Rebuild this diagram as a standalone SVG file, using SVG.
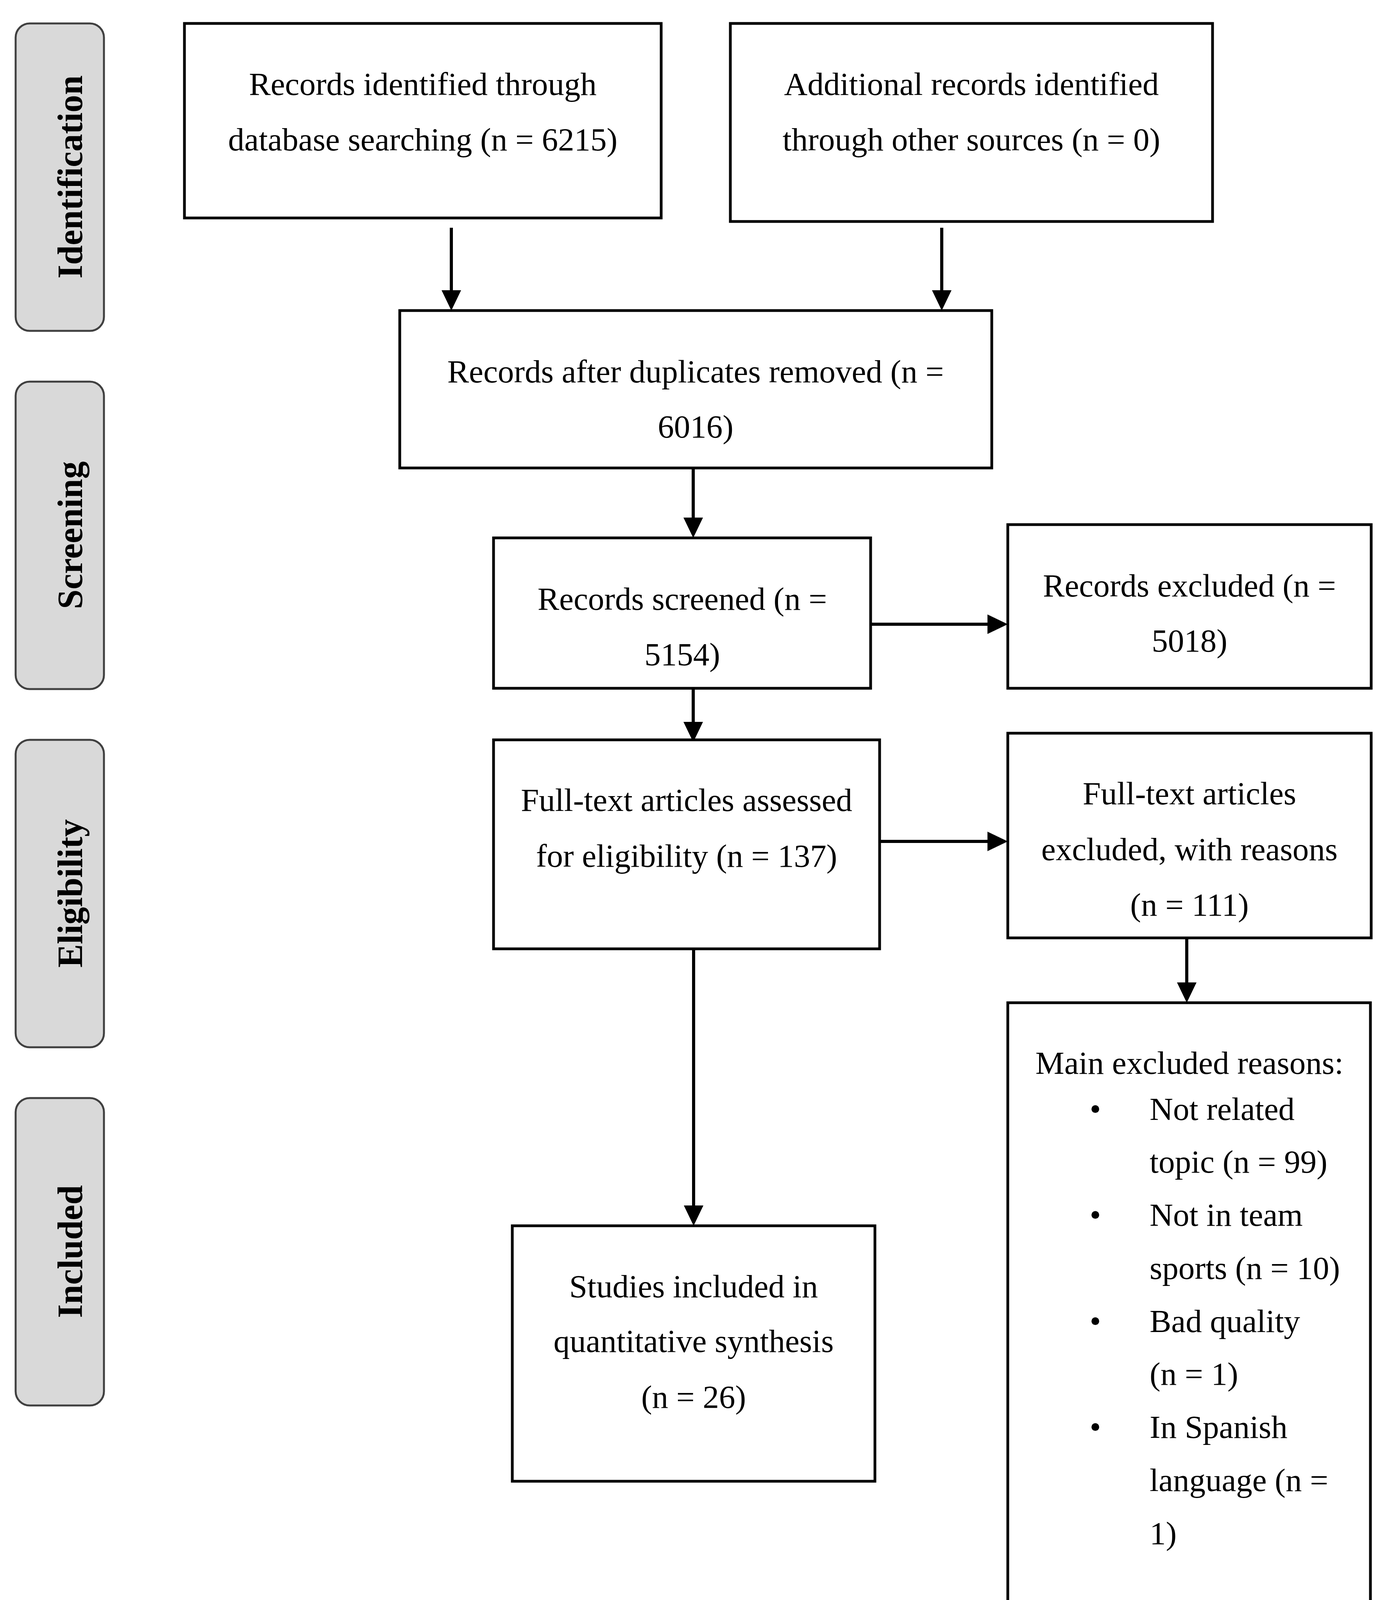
<svg xmlns="http://www.w3.org/2000/svg" width="3552" height="4176" viewBox="0 0 3552 4176">
<style>
.side{fill:#d9d9d9;stroke:#404040;stroke-width:5}
.stxt{font-family:"Liberation Serif",serif;font-weight:bold;font-size:90px;fill:#000;text-anchor:middle}
.box{fill:#fff;stroke:#000;stroke-width:7}
.t{font-family:"Liberation Serif",serif;font-size:83px;fill:#000;text-anchor:middle}
.tl{font-family:"Liberation Serif",serif;font-size:83px;fill:#000}
.con{stroke:#000;stroke-width:8;fill:none;marker-end:url(#ah)}
</style>
<defs>
<marker id="ah" markerUnits="userSpaceOnUse" markerWidth="52" markerHeight="50" refX="42" refY="25" orient="auto">
<path d="M0,0 L52,25 L0,50 z" fill="#000"/>
</marker>
</defs>
<rect width="3552" height="4176" fill="#fff"/>
<g id="stage-identification">
<rect class="side" x="40" y="60" width="226" height="787" rx="36" ry="36"/>
<text class="stxt" transform="translate(210,453) rotate(-90)">Identification</text>
</g>
<g id="stage-screening">
<rect class="side" x="40" y="977" width="226" height="787" rx="36" ry="36"/>
<text class="stxt" transform="translate(210,1370) rotate(-90)">Screening</text>
</g>
<g id="stage-eligibility">
<rect class="side" x="40" y="1894" width="226" height="787" rx="36" ry="36"/>
<text class="stxt" transform="translate(210,2287) rotate(-90)">Eligibility</text>
</g>
<g id="stage-included">
<rect class="side" x="40" y="2811" width="226" height="787" rx="36" ry="36"/>
<text class="stxt" transform="translate(210,3204) rotate(-90)">Included</text>
</g>
<g id="connectors">
<line class="con" x1="1155" y1="583" x2="1155" y2="785"/>
<line class="con" x1="2410" y1="583" x2="2410" y2="785"/>
<line class="con" x1="1774" y1="1198" x2="1774" y2="1367"/>
<line class="con" x1="2228" y1="1598" x2="2569" y2="1598"/>
<line class="con" x1="1774" y1="1762" x2="1774" y2="1890"/>
<line class="con" x1="2241" y1="2154" x2="2569" y2="2154"/>
<line class="con" x1="3037" y1="2401" x2="3037" y2="2557"/>
<line class="con" x1="1775" y1="2429" x2="1775" y2="3128"/>
</g>
<g id="node-db">
<rect class="box" x="472" y="60" width="1220" height="498"/>
<text class="t" x="1082" y="243">Records identified through</text>
<text class="t" x="1082" y="385">database searching (n = 6215)</text>
</g>
<g id="node-other">
<rect class="box" x="1869" y="60" width="1234" height="507"/>
<text class="t" x="2486" y="243">Additional records identified</text>
<text class="t" x="2486" y="385">through other sources (n = 0)</text>
</g>
<g id="node-dedup">
<rect class="box" x="1023" y="795" width="1515" height="403"/>
<text class="t" x="1780" y="979">Records after duplicates removed (n =</text>
<text class="t" x="1780" y="1120">6016)</text>
</g>
<g id="node-screened">
<rect class="box" x="1263" y="1377" width="965" height="385"/>
<text class="t" x="1746" y="1561">Records screened (n =</text>
<text class="t" x="1746" y="1703">5154)</text>
</g>
<g id="node-excluded">
<rect class="box" x="2579" y="1343" width="930" height="419"/>
<text class="t" x="3044" y="1527">Records excluded (n =</text>
<text class="t" x="3044" y="1668">5018)</text>
</g>
<g id="node-fulltext">
<rect class="box" x="1263" y="1894" width="988" height="535"/>
<text class="t" x="1757" y="2076">Full-text articles assessed</text>
<text class="t" x="1757" y="2219">for eligibility (n = 137)</text>
</g>
<g id="node-ft-excluded">
<rect class="box" x="2579" y="1877" width="930" height="524"/>
<text class="t" x="3044" y="2059">Full-text articles</text>
<text class="t" x="3044" y="2202">excluded, with reasons</text>
<text class="t" x="3044" y="2344">(n = 111)</text>
</g>
<g id="node-reasons">
<rect class="box" x="2579" y="2567" width="928" height="1570"/>
<text class="t" x="3044" y="2749">Main excluded reasons:</text>
<text class="t" x="2803" y="2867">•</text>
<text class="tl" x="2942" y="2867">Not related</text>
<text class="tl" x="2942" y="3002">topic (n = 99)</text>
<text class="t" x="2803" y="3138">•</text>
<text class="tl" x="2942" y="3138">Not in team</text>
<text class="tl" x="2942" y="3274">sports (n = 10)</text>
<text class="t" x="2803" y="3410">•</text>
<text class="tl" x="2942" y="3410">Bad quality</text>
<text class="tl" x="2942" y="3545">(n = 1)</text>
<text class="t" x="2803" y="3681">•</text>
<text class="tl" x="2942" y="3681">In Spanish</text>
<text class="tl" x="2942" y="3817">language (n =</text>
<text class="tl" x="2942" y="3953">1)</text>
</g>
<g id="node-included">
<rect class="box" x="1311" y="3138" width="928" height="654"/>
<text class="t" x="1775" y="3321">Studies included in</text>
<text class="t" x="1775" y="3461">quantitative synthesis</text>
<text class="t" x="1775" y="3604">(n = 26)</text>
</g>
</svg>
